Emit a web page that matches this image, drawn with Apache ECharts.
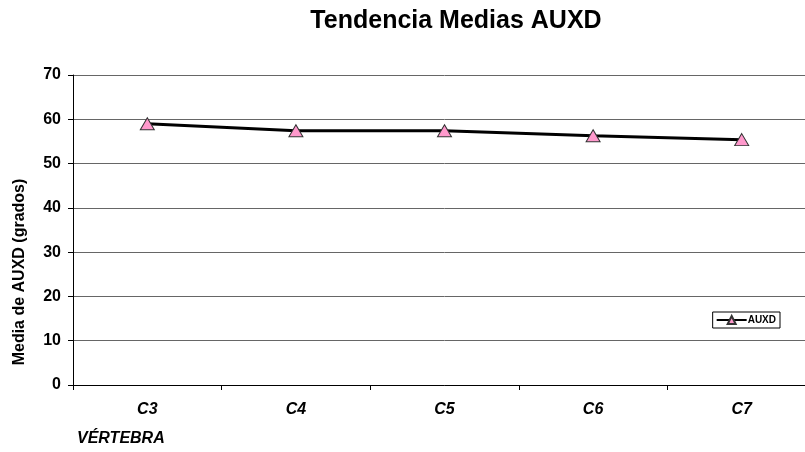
<!DOCTYPE html>
<html>
<head>
<meta charset="utf-8">
<script src="https://cdn.jsdelivr.net/npm/echarts@6/dist/echarts.min.js"></script>
<style>
  html, body { margin: 0; padding: 0; background: #fff; overflow: hidden; }
  #chart { width: 820px; height: 452px; }
</style>
</head>
<body>
<div id="chart"></div>
<script>
// Mean AUXD angle per cervical vertebra
const categories = ['C3', 'C4', 'C5', 'C6', 'C7'];
const auxdMeans = [59.0, 57.4, 57.4, 56.3, 55.4];
const yTicks = { min: 0, max: 70, interval: 10 };

const FONT = '"Liberation Sans", Arial, sans-serif';

const chart = echarts.init(document.getElementById('chart'));
chart.setOption({
  animation: false,
  backgroundColor: '#ffffff',
  title: {
    text: 'Tendencia Medias AUXD',
    left: 451,
    top: 4,
    textAlign: 'center',
    textStyle: { fontFamily: FONT, fontWeight: 'bold', fontSize: 25, color: '#000' }
  },
  grid: { left: 73, top: 75, bottom: 67, right: 4, containLabel: false },
  legend: {
    data: ['AUXD'],
    right: 40,
    top: 312,
    orient: 'vertical',
    itemWidth: 30,
    itemHeight: 10,
    itemGap: 0,
    padding: [3, 4, 3, 3],
    borderColor: '#000',
    borderWidth: 1,
    backgroundColor: '#fff',
    textStyle: { fontFamily: FONT, fontWeight: 'bold', fontSize: 10, color: '#000', padding: [0, 0, 0, -4] }
  },
  xAxis: {
    type: 'category',
    data: categories,
    boundaryGap: true,
    axisLine: { lineStyle: { color: '#000', width: 1 } },
    axisTick: { show: true, length: 5, interval: 0, lineStyle: { color: '#000' } },
    axisLabel: {
      margin: 17,
      fontFamily: FONT, fontWeight: 'bold', fontStyle: 'italic', fontSize: 16, color: '#000'
    },
    splitLine: { show: false }
  },
  yAxis: {
    type: 'value',
    min: yTicks.min,
    max: yTicks.max,
    interval: yTicks.interval,
    axisLine: { show: true, lineStyle: { color: '#000', width: 1 } },
    axisTick: { show: true, length: 5, lineStyle: { color: '#000' } },
    axisLabel: {
      margin: 12,
      fontFamily: FONT, fontWeight: 'bold', fontSize: 16, color: '#000'
    },
    splitLine: { show: true, lineStyle: { color: '#666', width: 1 } }
  },
  graphic: [{
    type: 'text',
    x: 20,
    y: 272,
    rotation: Math.PI / 2,
    style: {
      text: 'Media de AUXD (grados)',
      font: 'bold 16px ' + FONT,
      fill: '#000',
      align: 'center',
      verticalAlign: 'middle'
    }
  }, {
    type: 'text',
    left: 77,
    top: 431,
    style: {
      text: 'VÉRTEBRA',
      font: 'italic bold 16px ' + FONT,
      fill: '#000'
    }
  }],
  series: [{
    name: 'AUXD',
    type: 'line',
    data: auxdMeans,
    symbol: 'triangle',
    symbolSize: [14, 12],
    lineStyle: { color: '#000', width: 3 },
    itemStyle: { color: '#ff99cc', borderColor: '#333', borderWidth: 1 },
    z: 3
  }]
});
</script>
</body>
</html>
